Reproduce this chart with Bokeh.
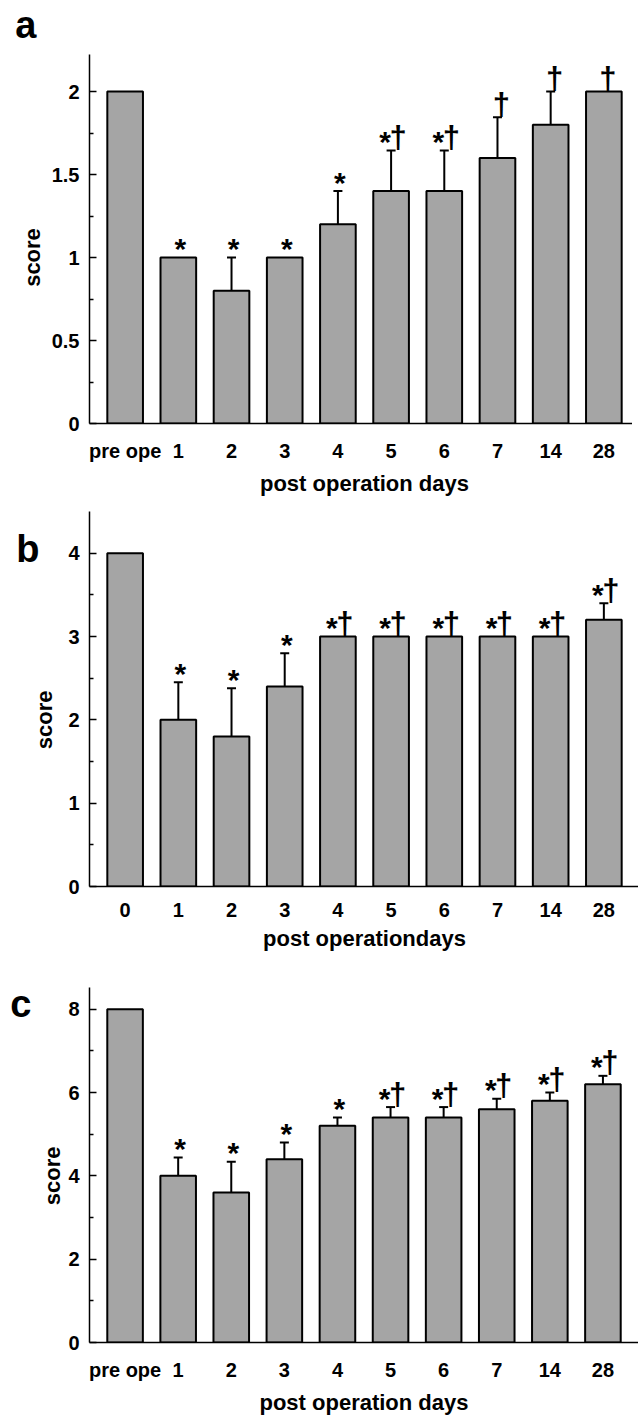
from bokeh.plotting import figure
from bokeh.models import (ColumnDataSource, Range1d, FixedTicker, Whisker,
                          TeeHead, LinearAxis)
from bokeh.layouts import column
from bokeh.embed import file_html
from bokeh.resources import INLINE
from bokeh.core.properties import value

# ---------------- data ----------------
cats_a = ["pre ope", "1", "2", "3", "4", "5", "6", "7", "14", "28"]
vals_a = [2, 1, 0.8, 1, 1.2, 1.4, 1.4, 1.6, 1.8, 2]
errs_a = [0, 0, 0.2, 0, 0.2, 0.245, 0.245, 0.245, 0.2, 0]
marks_a = ["", "*", "*", "*", "*", "*†", "*†", "†", "†", "†"]
yticks_a = [0, 0.5, 1, 1.5, 2]
ylabels_a = ["0", "0.5", "1", "1.5", "2"]

cats_b = ["0", "1", "2", "3", "4", "5", "6", "7", "14", "28"]
vals_b = [4, 2, 1.8, 2.4, 3, 3, 3, 3, 3, 3.2]
errs_b = [0, 0.45, 0.58, 0.4, 0, 0, 0, 0, 0, 0.2]
marks_b = ["", "*", "*", "*", "*†", "*†", "*†", "*†", "*†", "*†"]
yticks_b = [0, 1, 2, 3, 4]
ylabels_b = ["0", "1", "2", "3", "4"]

cats_c = ["pre ope", "1", "2", "3", "4", "5", "6", "7", "14", "28"]
vals_c = [8, 4.0, 3.6, 4.4, 5.2, 5.4, 5.4, 5.6, 5.8, 6.2]
errs_c = [0, 0.44, 0.74, 0.4, 0.2, 0.25, 0.25, 0.25, 0.2, 0.2]
marks_c = ["", "*", "*", "*", "*", "*†", "*†", "*†", "*†", "*†"]
yticks_c = [0, 2, 4, 6, 8]
ylabels_c = ["0", "2", "4", "6", "8"]

FONT = "Liberation Sans"
BAR_FILL = "#a5a5a5"


def text_axis(p, y, text, size, standoff, orientation="horizontal"):
    """An extra left axis that only carries one text (panel letter / title)."""
    ax = LinearAxis(ticker=FixedTicker(ticks=[y]))
    ax.major_label_overrides = {y: text}
    ax.axis_line_color = None
    ax.major_tick_line_color = None
    ax.minor_tick_line_color = None
    ax.major_tick_in = 0
    ax.major_tick_out = 0
    ax.minor_tick_in = 0
    ax.minor_tick_out = 0
    ax.major_label_standoff = standoff
    ax.major_label_orientation = orientation
    ax.major_label_text_font = FONT
    ax.major_label_text_font_style = "bold"
    ax.major_label_text_font_size = size
    ax.major_label_text_color = "black"
    p.add_layout(ax, "left")
    return ax


def make_panel(cats, vals, errs, marks, yticks, ylabels, ymax, yview, xlabel,
               letter, geom):
    p = figure(frame_width=geom["fw"], frame_height=geom["fh"],
               min_border_left=geom["l"], min_border_right=geom["r"],
               min_border_top=geom["t"], min_border_bottom=geom["b"],
               x_range=Range1d(-0.67, 9.67), y_range=Range1d(0, yview),
               output_backend="svg", toolbar_location=None,
               background_fill_color="white", border_fill_color="white")
    p.outline_line_color = None
    p.xgrid.visible = False
    p.ygrid.visible = False

    xs = list(range(len(cats)))
    tips = [v + e for v, e in zip(vals, errs)]
    src = ColumnDataSource(dict(x=xs, top=vals))
    p.vbar(x="x", top="top", width=0.67, source=src,
           fill_color=BAR_FILL, line_color="black", line_width=2)

    ex = [x for x, e in zip(xs, errs) if e > 0]
    eu = [v + e for v, e in zip(vals, errs) if e > 0]
    el = [v - e for v, e in zip(vals, errs) if e > 0]
    esrc = ColumnDataSource(dict(x=ex, upper=eu, lower=el))
    w = Whisker(source=esrc, base="x", upper="upper", lower="lower",
                line_width=2, line_color="black",
                upper_head=TeeHead(size=9, line_width=2, line_color="black"),
                lower_head=TeeHead(size=9, line_width=2, line_color="black"))
    p.add_layout(w)

    # significance marks: "*" and "†" drawn separately for better placement
    star_src = ColumnDataSource(dict(
        x=[x for x, m in zip(xs, marks) if "*" in m],
        y=[t for t, m in zip(tips, marks) if "*" in m],
        dx=[-6 if "†" in m else 2 for m in marks if "*" in m],
        t=["*" for m in marks if "*" in m]))
    dag_src = ColumnDataSource(dict(
        x=[x for x, m in zip(xs, marks) if "†" in m],
        y=[t for t, m in zip(tips, marks) if "†" in m],
        dx=[7 if "*" in m else 4 for m in marks if "†" in m],
        t=["†" for m in marks if "†" in m]))
    p.text(x="x", y="y", text="t", source=star_src, text_align="center",
           text_baseline="alphabetic", x_offset="dx", y_offset=-9,
           text_font=value(FONT), text_font_style="bold",
           text_font_size="30px", text_color="black")
    p.text(x="x", y="y", text="t", source=dag_src, text_align="center",
           text_baseline="alphabetic", x_offset="dx", y_offset=-13,
           text_font=value(FONT), text_font_style="bold",
           text_font_size="31px", text_color="black")

    # x axis
    xa = p.xaxis[0]
    xa.ticker = FixedTicker(ticks=xs)
    xa.major_label_overrides = {i: c for i, c in enumerate(cats)}
    xa.major_tick_in = 0
    xa.major_tick_out = 0
    xa.minor_tick_in = 0
    xa.minor_tick_out = 0
    xa.axis_line_width = 1.5
    xa.major_label_standoff = 16
    xa.major_label_text_font = FONT
    xa.major_label_text_font_style = "bold"
    xa.major_label_text_font_size = "20px"
    xa.major_label_text_color = "black"
    xa.axis_label = xlabel
    xa.axis_label_standoff = 6
    xa.axis_label_text_font = FONT
    xa.axis_label_text_font_style = "bold"
    xa.axis_label_text_font_size = "22px"
    xa.axis_label_text_color = "black"

    # y axis
    ya = p.yaxis[0]
    minor = [(a + b) / 2 for a, b in zip(yticks[:-1], yticks[1:])]
    ya.ticker = FixedTicker(ticks=yticks, minor_ticks=minor)
    ya.bounds = (0, ymax)
    ya.major_label_overrides = {t: s for t, s in zip(yticks, ylabels)}
    ya.major_tick_in = 7
    ya.major_tick_out = 0
    ya.minor_tick_in = 4
    ya.minor_tick_out = 0
    ya.major_tick_line_width = 1.5
    ya.minor_tick_line_width = 1.5
    ya.axis_line_width = 1.5
    ya.major_label_standoff = 10
    ya.major_label_text_font = FONT
    ya.major_label_text_font_style = "bold"
    ya.major_label_text_font_size = "20px"
    ya.major_label_text_color = "black"

    # "score" title centred on the labelled span, then the panel letter
    text_axis(p, yticks[-1] / 2, "score", "22px", geom["ss"], "parallel")
    text_axis(p, geom["ly"], letter, "38px", geom["ls"])
    return p


pa = make_panel(cats_a, vals_a, errs_a, marks_a, yticks_a, ylabels_a, 2.22, 2.5,
                "post operation days", "a",
                dict(fw=550, fh=415, l=82, r=0, t=8, b=77, ss=4, ly=2.44, ls=-20))
pb = make_panel(cats_b, vals_b, errs_b, marks_b, yticks_b, ylabels_b, 4.5, 4.5,
                "post operationdays", "b",
                dict(fw=550, fh=375, l=88, r=0, t=11, b=74, ss=8, ly=4.05, ls=-10))
pc = make_panel(cats_c, vals_c, errs_c, marks_c, yticks_c, ylabels_c, 8.52, 8.52,
                "post operation days", "c",
                dict(fw=549, fh=355, l=89, r=0, t=27, b=71, ss=0, ly=8.13, ls=6))

layout = column(pa, pb, pc, spacing=0)
open("out.html", "w").write(file_html(layout, INLINE))
